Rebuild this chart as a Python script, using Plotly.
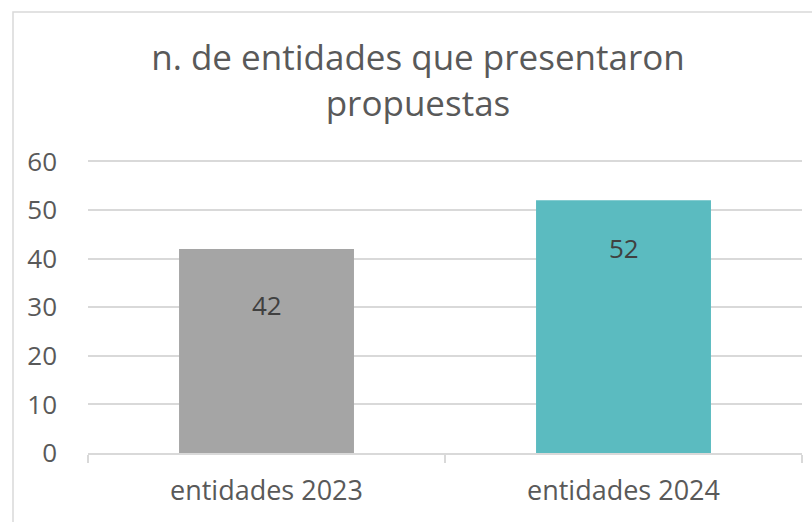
import plotly.graph_objects as go

categories = ["entidades 2023", "entidades 2024"]
values = [42, 52]
bar_colors = ["#A5A5A5", "#5BBBC0"]
label_shift = [-56, -48]
y_ticks = [0, 10, 20, 30, 40, 50, 60]
title_text = "n. de entidades que presentaron<br>propuestas"

W, H = 812, 522
ml, mr, mt, mb = 88, 10, 160, 69
pw, ph = W - ml - mr, H - mt - mb

fig = go.Figure()
fig.add_trace(go.Bar(
    x=categories, y=values,
    marker=dict(color=bar_colors, line=dict(width=0)),
    hoverinfo="skip",
))

for c, v, s in zip(categories, values, label_shift):
    fig.add_annotation(x=c, y=v, text=str(v), showarrow=False, yshift=s,
                       yanchor="middle",
                       font=dict(family="Open Sans", size=26, color="#404040"))

# outer chart border
fig.add_shape(type="rect", xref="paper", yref="paper",
              x0=(13 - ml) / pw, x1=(830 - ml) / pw,
              y0=(H - 540 - mb) / ph, y1=(H - 12 - mb) / ph,
              line=dict(color="#D9D9D9", width=1.5), layer="below")

fig.update_layout(
    width=W, height=H,
    margin=dict(l=ml, r=mr, t=mt, b=mb),
    paper_bgcolor="white", plot_bgcolor="white",
    bargap=0.51,
    showlegend=False,
    title=dict(text=title_text, x=418 / W, xref="container", xanchor="center",
               y=1 - 70 / H, yref="container", yanchor="middle",
               font=dict(family="Open Sans", size=35, color="#595959")),
    font=dict(family="Open Sans", color="#595959"),
)
fig.update_yaxes(range=[0, 60.3], tickvals=y_ticks, showgrid=True,
                 gridcolor="#D9D9D9", gridwidth=1.5, zeroline=False,
                 showline=False, ticks="", ticklabelstandoff=30,
                 tickfont=dict(family="Open Sans", size=26, color="#595959"))
fig.update_xaxes(showline=True, linecolor="#D9D9D9", linewidth=1.5,
                 ticks="outside", tickson="boundaries", ticklen=8,
                 tickcolor="#D9D9D9", tickwidth=1.5, ticklabelstandoff=13,
                 tickfont=dict(family="Open Sans", size=27, color="#595959"))

fig.write_html("out.html", config={"displayModeBar": False},
               post_script="document.body.style.margin='0';document.body.style.padding='0';")
